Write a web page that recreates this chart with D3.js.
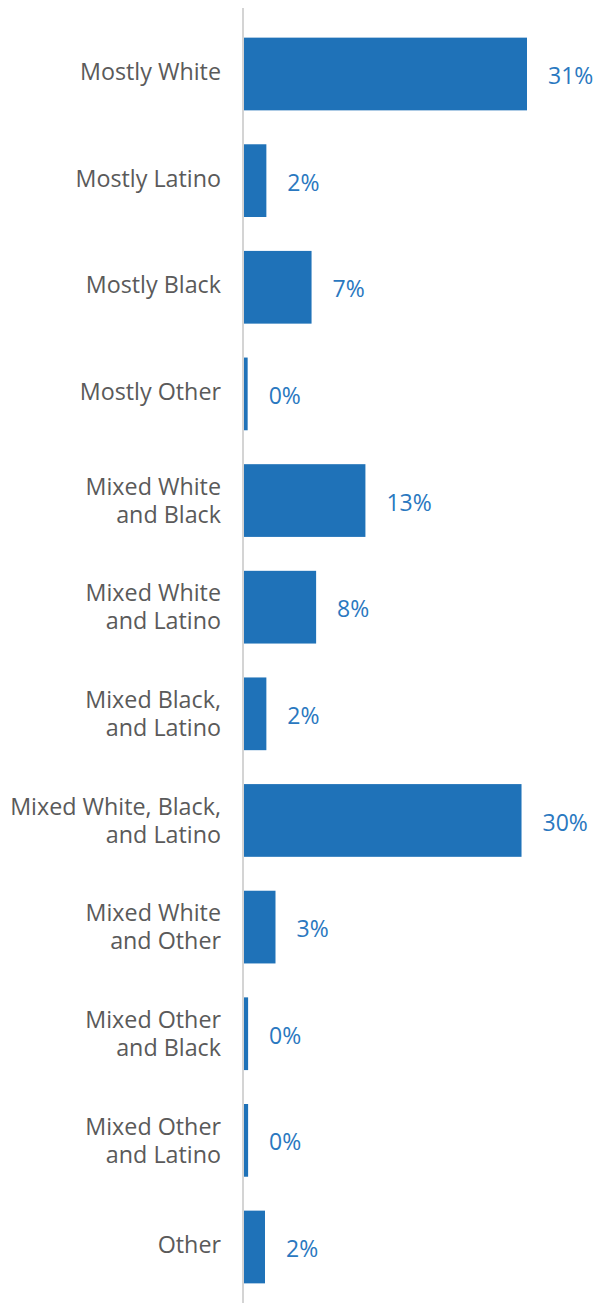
<!DOCTYPE html>
<html>
<head>
<meta charset="utf-8">
<script src="https://cdn.jsdelivr.net/npm/d3@7"></script>
<style>
  html, body { margin: 0; padding: 0; background: #fff; }
  svg { display: block; }
</style>
</head>
<body>
<svg id="chart" width="597" height="1303"></svg>
<script>
const categories = [
  ["Mostly White"],
  ["Mostly Latino"],
  ["Mostly Black"],
  ["Mostly Other"],
  ["Mixed White", "and Black"],
  ["Mixed White", "and Latino"],
  ["Mixed Black,", "and Latino"],
  ["Mixed White, Black,", "and Latino"],
  ["Mixed White", "and Other"],
  ["Mixed Other", "and Black"],
  ["Mixed Other", "and Latino"],
  ["Other"]
];
const values = [31.0, 2.45, 7.4, 0.4, 13.3, 7.9, 2.45, 30.4, 3.45, 0.45, 0.45, 2.3];

const W = 597, H = 1303;
const axisX = 244;
const svg = d3.select("#chart");
const keys = categories.map(c => c.join(" "));

const y = d3.scaleBand()
  .domain(keys)
  .range([21, 1300])
  .paddingInner(0.318)
  .paddingOuter(0.156);

const x = d3.scaleLinear()
  .domain([0, 31])
  .range([axisX, 527]);

const fmt = v => d3.format(".0f")(v) + "%";

// bars
svg.append("g").selectAll("rect")
  .data(values)
  .join("rect")
  .attr("x", axisX)
  .attr("y", (d, i) => y(keys[i]))
  .attr("width", d => x(d) - axisX)
  .attr("height", y.bandwidth())
  .attr("fill", "#1f72b8");

// axis line
svg.append("line")
  .attr("x1", axisX - 1).attr("x2", axisX - 1)
  .attr("y1", 8).attr("y2", H)
  .attr("stroke", "#d4d4d4")
  .attr("stroke-width", 2);

// category labels
const lineH = 28;
const labG = svg.append("g")
  .attr("font-family", "'Open Sans', sans-serif")
  .attr("font-size", 23.3)
  .attr("fill", "#5a5a5a")
  .attr("text-anchor", "end");
categories.forEach((lines, i) => {
  const cy = y(keys[i]) + y.bandwidth() / 2;
  const off = lines.length > 1 ? 0 : -2;
  const t = labG.append("text")
    .attr("x", 221)
    .attr("y", cy - (lines.length - 1) * lineH / 2 + off);
  lines.forEach((ln, j) => {
    t.append("tspan")
      .attr("x", 221)
      .attr("dy", j === 0 ? "0.35em" : lineH)
      .text(ln);
  });
});

// value labels
svg.append("g")
  .attr("font-family", "'Open Sans', sans-serif")
  .attr("font-size", 23)
  .attr("fill", "#2a78c0")
  .selectAll("text")
  .data(values)
  .join("text")
  .attr("x", d => x(d) + 21)
  .attr("y", (d, i) => y(keys[i]) + y.bandwidth() / 2 + 2)
  .attr("dy", "0.35em")
  .text(d => fmt(d));
</script>
</body>
</html>
